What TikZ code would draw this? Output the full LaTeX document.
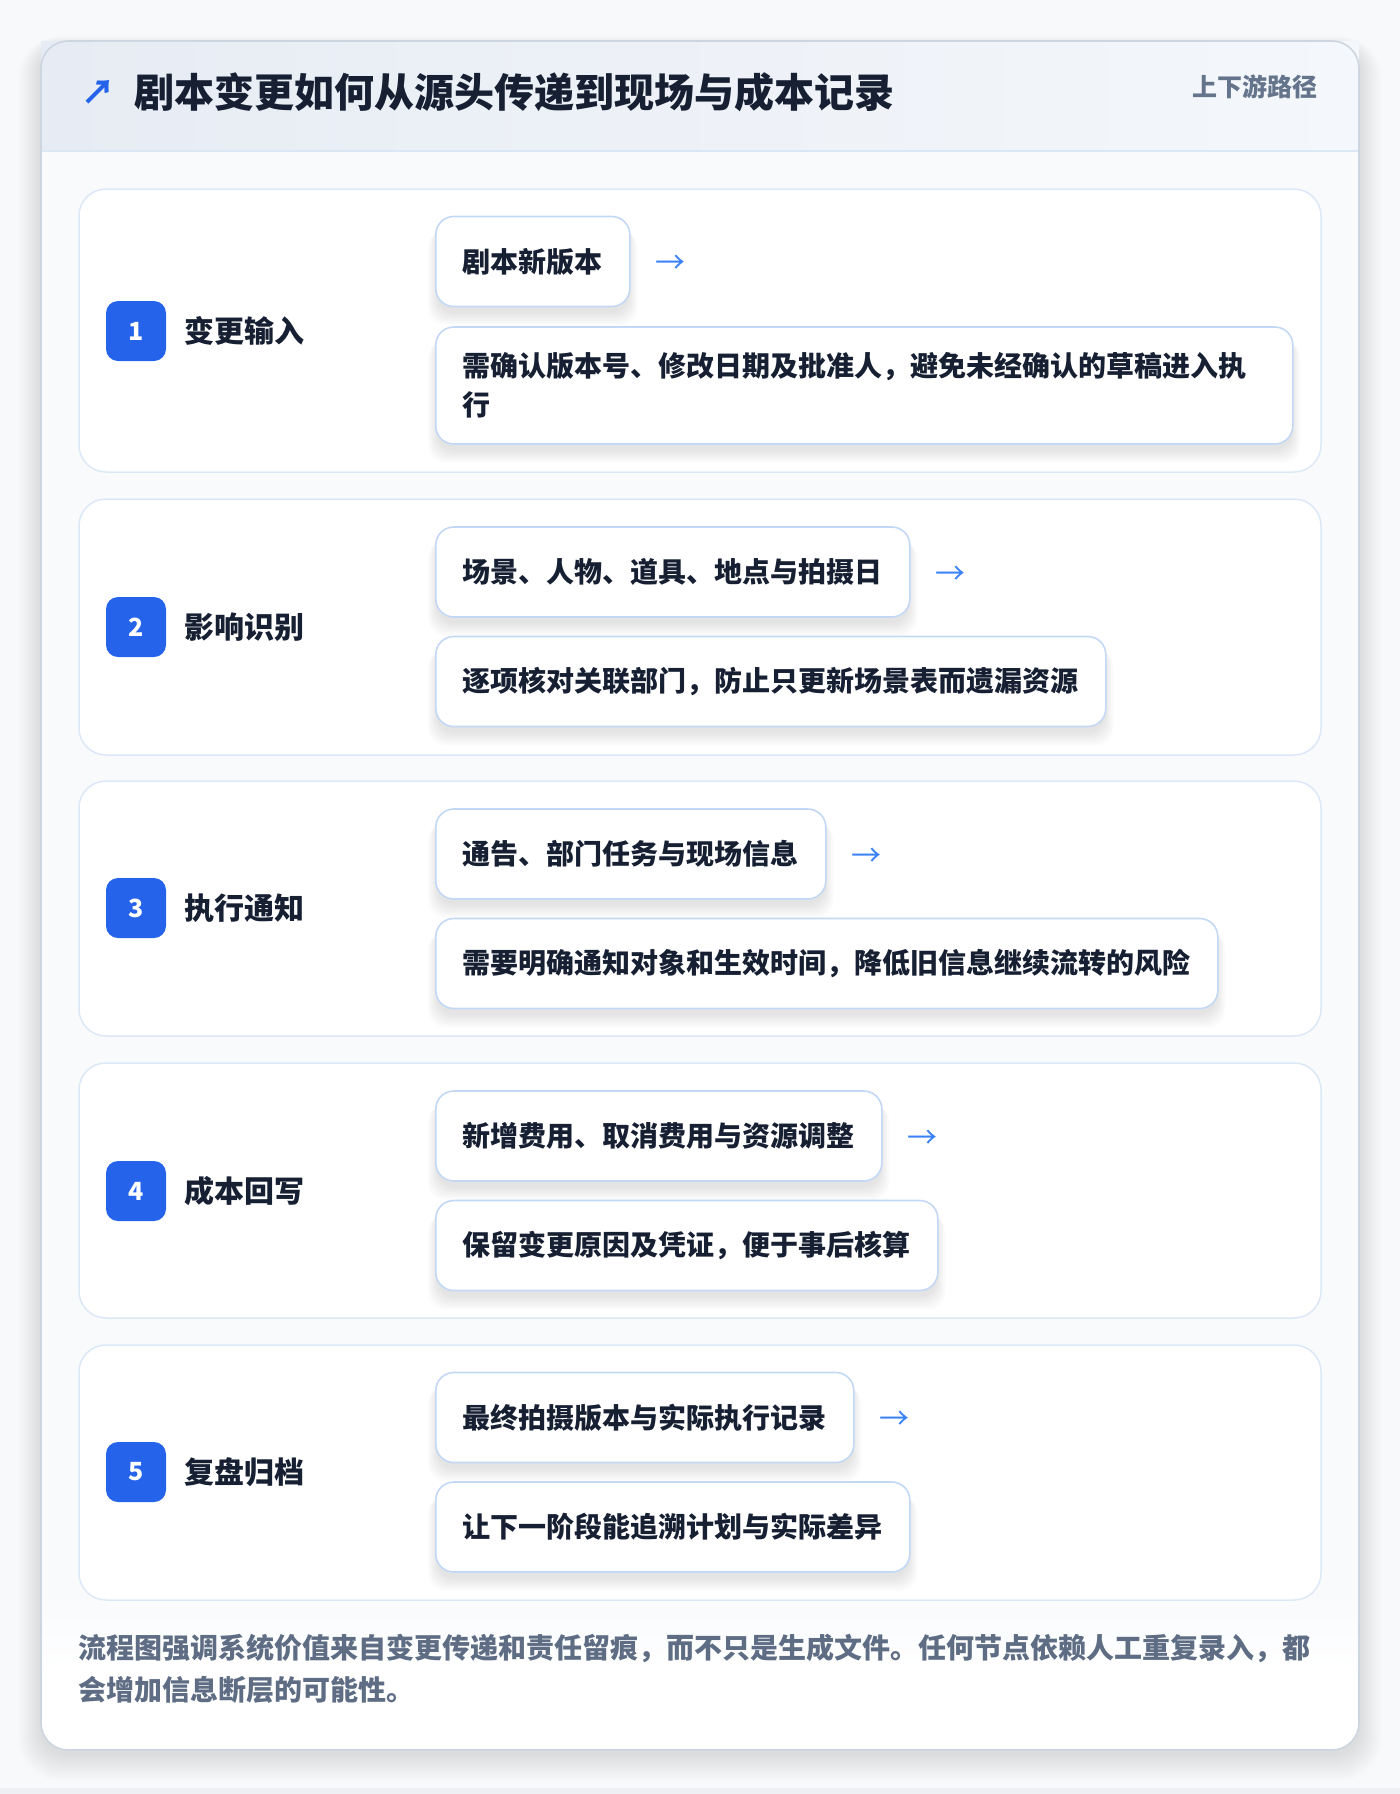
\documentclass[tikz,border=0pt]{standalone}
\usepackage{fontspec}
\setmainfont{Noto Sans CJK SC}
\usetikzlibrary{calc}
\pgfdeclarelayer{bg}
\pgfdeclarelayer{shd}
\pgfsetlayers{bg,shd,main}
\definecolor{pagebg}{HTML}{F8F9FB}
\definecolor{pagestrip}{HTML}{EEF0F3}
\definecolor{cardborder}{HTML}{CDD5E0}
\definecolor{bodybg}{HTML}{F8FAFC}
\definecolor{hdrL}{HTML}{E7ECF4}
\definecolor{hdrR}{HTML}{F4F7FB}
\definecolor{hdrline}{HTML}{DCE7F6}
\definecolor{secborder}{HTML}{DCE8F8}
\definecolor{boxborder}{HTML}{C3D8F5}
\definecolor{badgeblue}{HTML}{2563EB}
\definecolor{arrowblue}{HTML}{3B82F6}
\definecolor{textdark}{HTML}{172033}
\definecolor{textgray}{HTML}{64748B}
\definecolor{footgray}{HTML}{5E6D84}
\definecolor{shadowc}{HTML}{1E293B}
\tikzset{
  sectcard/.style={draw=secborder, line width=1.5pt, fill=white, rounded corners=27pt},
  badge/.style={fill=badgeblue, rounded corners=12pt, minimum width=60pt, minimum height=60pt,
    text=white, font=\bfseries\fontsize{25}{25}\selectfont, inner sep=0pt},
  steplabel/.style={anchor=west, text=textdark, font=\bfseries\fontsize{30}{30}\selectfont, inner sep=0pt},
  itembox/.style={anchor=west, draw=boxborder, line width=1.6pt, fill=white, rounded corners=18pt,
    inner xsep=27pt, inner ysep=0pt, text=textdark, font=\bfseries\fontsize{28}{39}\selectfont,
    minimum height=90pt, align=left},
  flowarrow/.style={anchor=west, text=arrowblue, font=\fontsize{30}{30}\selectfont, inner sep=0pt},
}
\newcommand{\boxshadow}[1]{%
  \foreach \s in {1,...,9}{%
    \fill[shadowc, opacity=0.012, rounded corners=18pt]
      ($(#1.north west)+(-\s*1.1+3, 6+\s*0.9)$) rectangle ($(#1.south east)+(\s*1.1-3, 4+\s*1.6)$);
  }}
\begin{document}
\begin{tikzpicture}[x=1pt,y=-1pt]
\useasboundingbox (0,0) rectangle (1400,1794);
\begin{pgfonlayer}{bg}
  \fill[pagebg] (0,0) rectangle (1400,1794);
  \fill[pagestrip] (0,1788) rectangle (1400,1794);
  % outer card shadow
  \foreach \s in {1,...,14}{%
    \fill[shadowc, opacity=0.008, rounded corners=27pt+\s pt]
      (41-\s*1.6,41-\s*0.6+4) rectangle (1359+\s*1.6,1750+\s*1.9+4);
  }
  % outer card
  \fill[bodybg, rounded corners=27pt] (41,41) rectangle (1359,1750);
  \shade[top color=bodybg, bottom color=white] (42,1590) rectangle (1358,1680);
  \fill[white, rounded corners=26pt] (42,1660) rectangle (1358,1749);
  \fill[white] (42,1679) rectangle (1358,1700);
  \shade[left color=hdrL, right color=hdrR] (41,41) rectangle (1359,151);
  \draw[hdrline, line width=1.6pt] (41,151) -- (1359,151);
  \draw[cardborder, line width=1.6pt, rounded corners=27pt] (41,41) rectangle (1359,1750);
  % section cards
  \draw[sectcard] (79,189) rectangle (1321,472);
  \draw[sectcard] (79,499) rectangle (1321,755);
  \draw[sectcard] (79,781) rectangle (1321,1036);
  \draw[sectcard] (79,1063) rectangle (1321,1318);
  \draw[sectcard] (79,1345) rectangle (1321,1600);
\end{pgfonlayer}

% header
\node[text=badgeblue, font=\bfseries\fontsize{34}{34}\selectfont, inner sep=0pt] (harrow) at (98,92) {↗};
\node[anchor=west, text=textdark, font=\bfseries\fontsize{40}{40}\selectfont, inner sep=0pt] (title) at (134,92) {剧本变更如何从源头传递到现场与成本记录};
\node[anchor=east, text=textgray, font=\bfseries\fontsize{25}{25}\selectfont, inner sep=0pt] (tag) at (1318,87) {上下游路径};

% step 1
\node[badge] (bd1) at (136,331) {1};
\node[steplabel] (lb1) at (184,331) {变更输入};
\node[itembox] (b1a) at (435,261.5) {剧本新版本};
\node[flowarrow] (a1) at ($(b1a.east)+(25,3)$) {→};
\node[itembox, text width=803pt, minimum height=117pt] (b1b) at (435,385.5) {需确认版本号、修改日期及批准人，避免未经确认的草稿进入执\\行};

% step 2
\node[badge] (bd2) at (136,627) {2};
\node[steplabel] (lb2) at (184,627) {影响识别};
\node[itembox] (b2a) at (435,572) {场景、人物、道具、地点与拍摄日};
\node[flowarrow] (a2) at ($(b2a.east)+(25,3)$) {→};
\node[itembox] (b2b) at (435,681.5) {逐项核对关联部门，防止只更新场景表而遗漏资源};

% step 3
\node[badge] (bd3) at (136,908) {3};
\node[steplabel] (lb3) at (184,908) {执行通知};
\node[itembox] (b3a) at (435,854) {通告、部门任务与现场信息};
\node[flowarrow] (a3) at ($(b3a.east)+(25,3)$) {→};
\node[itembox] (b3b) at (435,963.5) {需要明确通知对象和生效时间，降低旧信息继续流转的风险};

% step 4
\node[badge] (bd4) at (136,1191) {4};
\node[steplabel] (lb4) at (184,1191) {成本回写};
\node[itembox] (b4a) at (435,1136) {新增费用、取消费用与资源调整};
\node[flowarrow] (a4) at ($(b4a.east)+(25,3)$) {→};
\node[itembox] (b4b) at (435,1245.5) {保留变更原因及凭证，便于事后核算};

% step 5
\node[badge] (bd5) at (136,1472) {5};
\node[steplabel] (lb5) at (184,1472) {复盘归档};
\node[itembox] (b5a) at (435,1417.5) {最终拍摄版本与实际执行记录};
\node[flowarrow] (a5) at ($(b5a.east)+(25,3)$) {→};
\node[itembox] (b5b) at (435,1527) {让下一阶段能追溯计划与实际差异};

% footer
\node[anchor=west, text=footgray, font=\bfseries\fontsize{28}{42}\selectfont, inner sep=0pt, align=left] (foot) at (78,1669)
  {流程图强调系统价值来自变更传递和责任留痕，而不只是生成文件。任何节点依赖人工重复录入，都\\会增加信息断层的可能性。};

\begin{pgfonlayer}{shd}
  \boxshadow{b1a}\boxshadow{b1b}
  \boxshadow{b2a}\boxshadow{b2b}
  \boxshadow{b3a}\boxshadow{b3b}
  \boxshadow{b4a}\boxshadow{b4b}
  \boxshadow{b5a}\boxshadow{b5b}
\end{pgfonlayer}
\end{tikzpicture}
\end{document}
